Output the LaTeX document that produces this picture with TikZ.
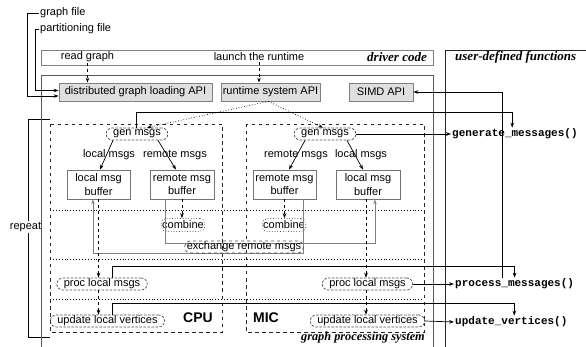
\documentclass[tikz,border=0pt]{standalone}
\usepackage{fontspec}
\setmainfont{Liberation Sans}
\newfontfamily\serifbi{Liberation Serif}
\newfontfamily\monob{Liberation Mono}
\usetikzlibrary{arrows.meta}
\tikzset{
  txt/.style={font=\fontsize{11}{12}\selectfont, inner sep=1pt},
  arr/.style={-{Stealth[length=5pt,width=3.6pt]}, line width=0.7pt},
  apibox/.style={draw=gray, fill=gray!25, line width=0.8pt, minimum height=18pt, inner sep=0pt, font=\fontsize{11}{12}\selectfont},
  buf/.style={draw=gray!90!black, line width=0.8pt, minimum width=63pt, minimum height=29pt, align=center, inner sep=0pt, font=\fontsize{11}{13.5}\selectfont},
  op/.style={draw=gray!60!black, dash pattern=on 2.5pt off 1.5pt, line width=0.7pt, rounded corners=6pt, minimum height=12pt, inner xsep=7pt, inner ysep=0pt, font=\fontsize{11}{12}\selectfont},
  opc/.style={draw=gray!60!black, dotted, line width=0.7pt, rounded corners=5pt, minimum height=13pt, inner xsep=1pt, inner ysep=0pt, font=\fontsize{11}{12}\selectfont},
  region/.style={draw=gray!30!black, dash pattern=on 3.5pt off 3.5pt, line width=0.7pt},
  sepline/.style={dotted, line width=0.9pt},
  xch/.style={draw=gray, line width=0.9pt, -{Stealth[length=5pt,width=3.6pt]}},
  titl/.style={font=\serifbi\bfseries\itshape\fontsize{13}{14}\selectfont, inner sep=1pt},
  fn/.style={font=\monob\bfseries\fontsize{11}{12}\selectfont, inner sep=1pt},
  chip/.style={font=\bfseries\fontsize{14}{15}\selectfont, inner sep=1pt},
}
\begin{document}
\begin{tikzpicture}[x=1pt,y=-1pt]
\clip (0,0) rectangle (586,347);

% repeat bracket
\draw[line width=0.8pt] (50,119) -- (28,119) -- (28,337) -- (50,337);
\node[txt, fill=white] (rep) at (25.5,227) {repeat};

% big boxes
\draw[gray!70!black, line width=0.9pt] (41,75) rectangle (433,360);
\draw[black!85, line width=0.7pt] (445,50) rectangle (600,360);

% driver code box
\node[draw=gray, line width=0.8pt, minimum width=392pt, minimum height=15pt, inner sep=0pt] (drv) at (237,57.5) {};
\node[txt] (rg) at (87.5,57) {read graph};
\node[txt] (lr) at (259,57) {launch the runtime};
\node[titl, anchor=east] (dc) at (428,57) {driver code};
\node[titl, anchor=west] (udf) at (454,57) {user-defined functions};

% APIs
\node[apibox, minimum width=153pt] (api1) at (135.5,92) {distributed graph loading API};
\node[apibox, minimum width=99pt] (api2) at (270.5,92) {runtime system API};
\node[apibox, minimum width=64pt] (api3) at (381,92) {SIMD API};

% input files
\node[txt, anchor=west] (gf) at (39,13) {graph file};
\node[txt, anchor=west] (pf) at (39,29) {partitioning file};
\draw[arr] (gf.west) -- ++(-12,0) |- ([yshift=-4pt]api1.west);
\draw[arr] (pf.west) -- ++(-4,0) |- ([yshift=1.5pt]api1.west);

\draw[arr, dashed] (rg.south) -- (rg.south |- api1.north);
\draw[arr, dashed] (lr.south) -- (lr.south |- api2.north);

% regions
\draw[region] (50,124) rectangle (222,332);
\draw[region] (246,124) rectangle (424,332);
\foreach \yy in {210,259,299} \draw[sepline] (50,\yy) -- (424,\yy);

% gen msgs
\node[op] (gen1) at (137,134) {gen msgs};
\node[op] (gen2) at (325,134) {gen msgs};
\draw[arr, dotted] ([xshift=-2pt]api2.south) -- ([xshift=10pt]gen1.north);
\draw[arr, dotted] ([xshift=-2pt]api2.south) -- ([xshift=-2pt]gen2.north);

% labels
\node[txt] (l1) at (109,155) {local msgs};
\node[txt] (r1) at (175,155) {remote msgs};
\node[txt] (r2) at (296,155) {remote msgs};
\node[txt] (l2) at (361,155) {local msgs};

% buffers
\node[buf] (lb1) at (98.5,184.5) {local msg\\buffer};
\node[buf, minimum width=64pt] (rb1) at (182,184.5) {remote msg\\buffer};
\node[buf] (rb2) at (284.5,184.5) {remote msg\\buffer};
\node[buf, minimum width=64pt] (lb2) at (368,184.5) {local msg\\buffer};

\draw[arr] ([xshift=-24pt]gen1.south) -- ([xshift=1.5pt]lb1.north);
\draw[arr] ([xshift=21pt]gen1.south) -- ([xshift=-6pt]rb1.north);
\draw[arr] ([xshift=-20pt]gen2.south) -- ([xshift=4.5pt]rb2.north);
\draw[arr] ([xshift=22pt]gen2.south) -- ([xshift=-5pt]lb2.north);

% combine
\node[opc] (cb1) at (183,225) {combine};
\node[opc] (cb2) at (284,225) {combine};
\draw[arr, dashed] (rb1.south) -- (rb1.south |- cb1.north);
\draw[arr, dashed] (rb2.south) -- (rb2.south |- cb2.north);

% exchange
\draw[xch] ([xshift=-17pt]rb1.south) -- ++(0,44) -| ([xshift=7pt]lb2.south);
\draw[xch] ([xshift=18.5pt]rb2.south) -- ++(0,54) -| ([xshift=-5.5pt]lb1.south);
\node[op, dashed, inner xsep=2pt, rounded corners=5pt] (ex) at (244,247) {exchange remote msgs};

% proc / update
\node[op] (pr1) at (102,284) {proc local msgs};
\node[op] (pr2) at (367.5,284) {proc local msgs};
\node[op] (up1) at (107.5,321) {update local vertices};
\node[op] (up2) at (367.5,321) {update local vertices};

\coordinate (d1) at (lb1.south);
\coordinate (d2) at ([xshift=-2pt]lb2.south);
\draw[arr, dashed] (d1) -- (d1 |- pr1.north);
\draw[arr, dashed] (d1 |- pr1.south) -- (d1 |- up1.north);
\draw[arr, dashed] (d2) -- (d2 |- pr2.north);
\draw[arr, dashed] (d2 |- pr2.south) -- (d2 |- up2.north);

\node[chip] (cpu) at (198,318) {CPU};
\node[chip] (mic) at (266,318) {MIC};

\node[titl, anchor=east, font=\serifbi\bfseries\itshape\fontsize{12.3}{14}\selectfont] (gps) at (426,338) {graph processing system};

% user functions
\node[fn, anchor=west] (gm) at (451,134) {generate\_messages()};
\node[fn, anchor=west] (pm) at (454,284) {process\_messages()};
\node[fn, anchor=west] (uv) at (454,322) {update\_vertices()};

\draw[arr] (gen2.east) -- (gm.west);
\draw[arr] (pr2.east) -- (pm.west);
\draw[arr] (up2.east) -- (uv.west);

\draw[arr] ([xshift=-1pt]gen1.north) -- ++(0,-15) -| ([xshift=-2.7pt]gm.north);
\draw[arr] ([xshift=10pt]pr1.north) -- ++(0,-11) -| (pm.north);
\draw[arr] ([xshift=4.5pt]up1.north) -- ++(0,-11) -| ([xshift=3pt]uv.north);
\draw[arr] ([xshift=-12pt]pm.north) |- (api3.east);
\end{tikzpicture}
\end{document}
